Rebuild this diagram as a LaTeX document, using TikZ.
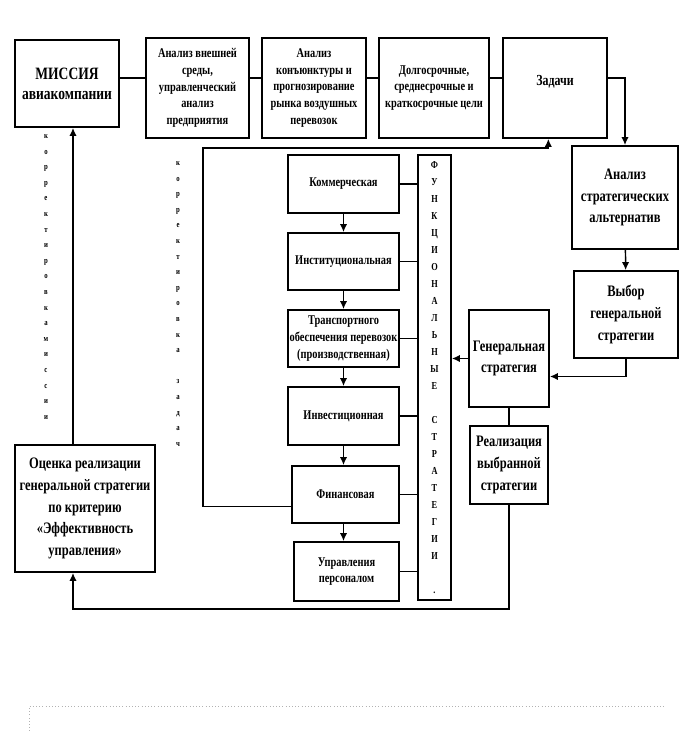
\documentclass[tikz,border=0pt]{standalone}
\usepackage{fontspec}
\setmainfont{Liberation Serif}[FakeStretch=0.78]
\usetikzlibrary{arrows.meta}
\tikzset{
    box/.style={draw, line width=1.3pt, align=center, inner sep=1pt},
    small/.style={font=\bfseries\fontsize{10}{12.6}\selectfont},
    big/.style={font=\bfseries\fontsize{12}{16.3}\selectfont},
    link/.style={line width=1.1pt},
    arr/.style={line width=1.1pt, -{Latex[length=6pt,width=5.5pt]}},
    vtext/.style={align=center, inner sep=0pt, font=\bfseries\fontsize{6.5}{11.7}\selectfont}
}
\begin{document}
\begin{tikzpicture}[x=0.75pt, y=-0.75pt]

\useasboundingbox (0,0) rectangle (681,731);

% top row
\node[box, font=\bfseries\fontsize{13}{15}\selectfont, minimum width=78pt, minimum height=65.25pt] (mission) at (67,83.5) {МИССИЯ\\авиакомпании};
\node[box, small, minimum width=77.25pt, minimum height=75pt] (env) at (197.5,88) {Анализ внешней\\среды,\\управленческий\\анализ\\предприятия};
\node[box, small, minimum width=78pt, minimum height=75pt] (market) at (314,88) {Анализ\\конъюнктуры и\\прогнозирование\\рынка воздушных\\перевозок};
\node[box, small, minimum width=82.5pt, minimum height=75pt] (goals) at (434,88) {Долгосрочные,\\среднесрочные и\\краткосрочные цели};
\node[box, font=\bfseries\fontsize{11.5}{14}\selectfont, minimum width=78pt, minimum height=75pt] (tasks) at (555,88) {\raisebox{11pt}{Задачи}};

% right column
\node[box, big, minimum width=79.5pt, minimum height=77.25pt] (altern) at (625,197.5) {Анализ\\стратегических\\альтернатив};
\node[box, big, minimum width=78pt, minimum height=65.25pt] (choice) at (626,314.5) {Выбор\\генеральной\\стратегии};
\node[box, big, minimum width=60pt, minimum height=72.75pt] (general) at (509,358.5) {Генеральная\\стратегия};
\node[box, big, minimum width=58.5pt, minimum height=58.5pt] (realiz) at (509,465) {Реализация\\выбранной\\стратегии};

% left
\node[box, font=\bfseries\fontsize{12}{16.3}\selectfont, minimum width=105pt, minimum height=95.25pt] (estim) at (85,508.5) {Оценка реализации\\генеральной стратегии\\по критерию\\«Эффективность\\управления»};

% functional strategies
\node[box, minimum width=24.75pt, minimum height=333.75pt, font=\bfseries\fontsize{8}{12.75}\selectfont] (func) at (434.5,377.5)
    {Ф\\У\\Н\\К\\Ц\\И\\О\\Н\\А\\Л\\Ь\\Н\\Ы\\Е\\~\\С\\Т\\Р\\А\\Т\\Е\\Г\\И\\И\\~\\.};
\node[box, small, minimum width=83.25pt, minimum height=43.5pt] (comm) at (343.5,184) {Коммерческая};
\node[box, small, minimum width=83.25pt, minimum height=42.75pt] (inst) at (343.5,261.5) {Институциональная};
\node[box, small, minimum width=83.25pt, minimum height=42.75pt] (transp) at (343.5,338.5) {Транспортного\\обеспечения перевозок\\(производственная)};
\node[box, small, minimum width=83.25pt, minimum height=43.5pt] (invest) at (343.5,416) {Инвестиционная};
\node[box, small, minimum width=80.25pt, minimum height=42.75pt] (fin) at (345.5,494.5) {Финансовая};
\node[box, small, minimum width=78.75pt, minimum height=44.25pt] (staff) at (346.5,571.5) {Управления\\персоналом};

% vertical labels
\node[vtext] (corrm) at (46,277) {к\\о\\р\\р\\е\\к\\т\\и\\р\\о\\в\\к\\а\\м\\и\\с\\с\\и\\и};
\node[vtext] (corrz) at (178,304) {к\\о\\р\\р\\е\\к\\т\\и\\р\\о\\в\\к\\а\\~\\з\\а\\д\\а\\ч};

\coordinate (top) at (0,78);
\coordinate (left) at (73,0);
\coordinate (bottom) at (0,609);
\coordinate (loop) at (203,148);

% connectors
\draw[link] (mission.east |- top) -- (env.west |- top);
\draw[link] (env.east |- top) -- (market.west |- top);
\draw[link] (market.east |- top) -- (goals.west |- top);
\draw[link] (goals.east |- top) -- (tasks.west |- top);
\draw[arr] (tasks.east |- top) -| (altern.north);
\draw[arr] (altern) -- (choice);
\draw[arr] (choice.south) |- ([yshift=-13.5pt]general.east);
\draw[arr] (general.west) -- (general.west -| func.east);
\draw[link] (general) -- (realiz);
\draw[arr] (realiz.south) |- (bottom -| left) -- (left |- estim.south);
\draw[arr] (left |- estim.north) -- (left |- mission.south);
\draw[arr] ([yshift=-9pt]fin.west) -| (loop) -| ([xshift=-5pt]tasks.south);

\draw[arr] (comm.south) -- (comm.south |- inst.north);
\draw[arr] (inst.south) -- (inst.south |- transp.north);
\draw[arr] (transp.south) -- (transp.south |- invest.north);
\draw[arr] (invest.south) -- (invest.south |- fin.north);
\draw[arr] (invest.south |- fin.south) -- (invest.south |- staff.north);

\foreach \b in {comm, inst, transp, invest, fin, staff}
    \draw[link] (\b.east) -- (\b.east -| func.west);

\draw[gray!60, dotted] (29,731) -- (29,706) -- (664,706);

\end{tikzpicture}
\end{document}
